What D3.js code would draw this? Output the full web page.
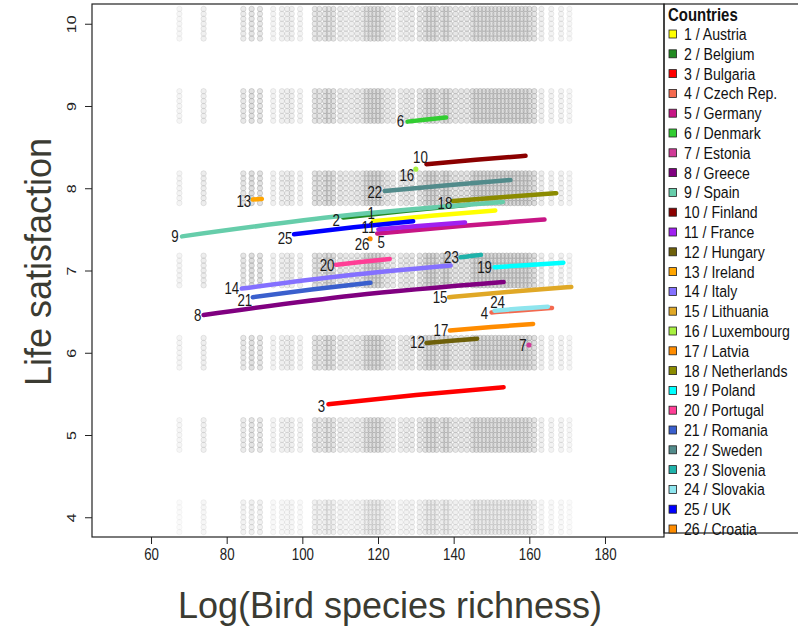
<!DOCTYPE html>
<html>
<head>
<meta charset="utf-8">
<script src="https://cdn.jsdelivr.net/npm/d3@7"></script>
<style>
body { margin: 0; background: #fff; }
svg text { font-family: 'Liberation Sans', Arial, sans-serif; }
</style>
</head>
<body>
<div class="viz"></div>
<script>
//////////////////////////
// Data
//////////////////////////

const countries = ['Austria', 'Belgium', 'Bulgaria', 'Czech Rep.', 'Germany', 'Denmark', 'Estonia',
    'Greece', 'Spain', 'Finland', 'France', 'Hungary', 'Ireland', 'Italy', 'Lithuania', 'Luxembourg',
    'Latvia', 'Netherlands', 'Poland', 'Portugal', 'Romania', 'Sweden', 'Slovenia', 'Slovakia', 'UK', 'Croatia'];

const colors = ['#ffff00', '#228b22', '#ff0000', '#f4694f', '#c71585', '#32cd32', '#d03a97',
    '#800080', '#66cdaa', '#8b0000', '#a020f0', '#6e600a', '#ffa500', '#8470ff', '#e0a826', '#a8f040',
    '#ff8c00', '#8b8b00', '#00ffff', '#ff3e96', '#3a5fcd', '#528b8b', '#20b2aa', '#8ee5ee', '#0000ff', '#ff8c00'];

// fitted curves per country: start, middle and end (x = bird species richness, y = life satisfaction)
const xStart = [118.7, 110.8, 106.9, 150.0, 119.8, 127.8, 159.9, 73.9, 68.2, 132.8, 120.1, 132.8, 86.9,
    84.0, 138.8, 130.0, 139.0, 139.8, 150.8, 108.9, 86.9, 121.8, 141.8, 150.8, 97.8, 117.9];
const xEnd = [151.0, 144.0, 153.2, 166.0, 164.0, 138.0, 159.9, 153.2, 153.0, 159.0, 143.0, 146.2, 89.3,
    139.2, 171.1, 130.0, 161.0, 167.1, 169.0, 123.1, 118.0, 155.0, 147.2, 164.9, 129.3, 117.9];
const yStart = [7.600, 7.643, 5.375, 6.490, 7.450, 8.810, 6.094, 6.460, 7.415, 8.293, 7.500, 6.120, 7.862,
    6.780, 6.675, 8.232, 6.270, 7.845, 7.040, 7.070, 6.675, 7.967, 7.160, 6.512, 7.440, 7.386];
const yMid = [7.669, 7.727, 5.487, 6.518, 7.542, 8.836, 6.094, 6.696, 7.665, 8.346, 7.544, 6.146, 7.866,
    6.938, 6.741, 8.232, 6.312, 7.894, 7.068, 7.106, 6.769, 8.037, 7.175, 6.537, 7.526, 7.386];
const yEnd = [7.730, 7.800, 5.580, 6.545, 7.620, 8.860, 6.094, 6.860, 7.833, 8.394, 7.585, 6.170, 7.870,
    7.060, 6.800, 8.232, 6.350, 7.940, 7.095, 7.140, 6.850, 8.100, 7.190, 6.560, 7.600, 7.386];

// number label offset from the curve start, in pixels
const labelOffset = [[-2, -8], [-7, 3], [-7, 2], [-7, 1], [4, 9], [-7, 0], [-6, 0], [-6, 0], [-7, 0],
    [-6, -7], [-10, -2], [-9, 0], [-9, 2], [-10, 0], [-9, 0], [-9, 6], [-9, 0], [-8, 2], [-10, 0],
    [-9, 1], [-8, 3], [-10, 1], [-9, 0], [3, -8], [-9, 4], [-8, 6]];

// raw answers (grey): region richness values, their relative weight, and per-level weight
const regions = [67.5, 73.9, 84.4, 86.6, 88.8, 92.3, 94.6, 96, 97.2, 99.4, 103.3, 104.5, 106, 107,
    108.2, 110, 111.5, 113, 114.5, 116, 117, 118, 119, 120, 121, 122.5, 124, 126, 127.5, 129, 131,
    132.5, 133.5, 134.5, 135.5, 137, 138, 139, 140.5, 142, 143.5, 145, 146, 147, 148, 149, 150, 151,
    152, 153, 154, 155, 156, 157, 158, 159, 160, 161.3, 163.2, 165.8, 168.4, 170.6];
const regionWeight = [0.3, 0.5, 0.7, 0.9, 0.8, 0.4, 0.5, 0.5, 0.5, 0.4, 0.8, 0.8, 0.9, 0.9, 0.9, 0.7,
    0.6, 0.6, 0.7, 0.7, 0.9, 1, 1, 1, 0.9, 0.7, 0.6, 0.6, 0.7, 0.7, 0.8, 1, 1, 1, 1, 1, 1, 0.9, 0.8,
    0.8, 0.8, 1, 1, 1, 1, 1, 1, 1, 1, 1, 1, 1, 1, 1, 1, 1, 1, 0.9, 0.5, 0.4, 0.4, 0.3];
const levels = [4, 5, 6, 7, 8, 9, 10];
const levelWeight = [0.5, 0.8, 0.9, 1.0, 1.0, 0.9, 0.8];

const xTicks = [60, 80, 100, 120, 140, 160, 180];
const yTicks = [4, 5, 6, 7, 8, 9, 10];

//////////////////////////
// Chart
//////////////////////////

const box = {left: 92, right: 664, top: 4, bottom: 537};
const jitterSteps = [-0.18, -0.12, -0.06, 0, 0.06, 0.12, 0.18];
const SQ = 0.83; // the original picture is squeezed sideways

var svg = d3.select('div.viz')
    .append('svg')
    .attr('width', 798)
    .attr('height', 630);

var xScale = d3.scaleLinear().domain([44.4, 195.6]).range([box.left, box.right]);
var yScale = d3.scaleLinear().domain([3.76, 10.24]).range([box.bottom, box.top]);

// grey background answers
var bgData = [];
levels.forEach((lv, li) => {
    regions.forEach((rx, ri) => {
        jitterSteps.forEach(s => {
            bgData.push({x: rx, y: lv + s, w: levelWeight[li] * regionWeight[ri]});
        });
    });
});

svg.append('g')
    .attr('class', 'bg-points')
    .selectAll('circle')
    .data(bgData)
    .join('circle')
    .attr('cx', d => xScale(d.x))
    .attr('cy', d => yScale(d.y))
    .attr('r', 2.7)
    .attr('fill', '#a8a8a8')
    .attr('fill-opacity', d => 0.42 * d.w)
    .attr('stroke', '#999')
    .attr('stroke-width', 0.9)
    .attr('stroke-opacity', d => 0.55 * d.w);

// axes
var xAxis = svg.append('g')
    .attr('transform', 'translate(0,' + box.bottom + ')')
    .call(d3.axisBottom(xScale).tickValues(xTicks).tickFormat(d3.format('d')).tickSize(7).tickPadding(5));
xAxis.select('.domain').remove();
xAxis.selectAll('line').attr('stroke', '#222');
xAxis.selectAll('text')
    .attr('transform', 'scale(' + SQ + ',1)')
    .style('font-size', '16px')
    .attr('fill', '#222');

var yAxis = svg.append('g')
    .attr('transform', 'translate(' + box.left + ',0)')
    .call(d3.axisLeft(yScale).tickValues(yTicks).tickFormat(d3.format('d')).tickSize(7));
yAxis.select('.domain').remove();
yAxis.selectAll('line').attr('stroke', '#222');
yAxis.selectAll('text')
    .attr('x', null)
    .attr('dy', '0.35em')
    .attr('transform', 'translate(-21,0) rotate(-90) scale(1,' + SQ + ')')
    .attr('text-anchor', 'middle')
    .style('font-size', '16px')
    .attr('fill', '#222');

svg.append('rect')
    .attr('x', box.left)
    .attr('y', box.top)
    .attr('width', box.right - box.left)
    .attr('height', box.bottom - box.top)
    .attr('fill', 'none')
    .attr('stroke', '#222')
    .attr('stroke-width', 1.2);

// country curves
var line = d3.line()
    .x(d => xScale(d[0]))
    .y(d => yScale(d[1]))
    .curve(d3.curveNatural);

var curves = svg.append('g').attr('class', 'curves');
countries.forEach((c, i) => {
    if (xStart[i] === xEnd[i]) {
        curves.append('circle')
            .attr('cx', xScale(xStart[i]))
            .attr('cy', yScale(yStart[i]))
            .attr('r', 2.6)
            .attr('fill', colors[i]);
    } else {
        var pts = [[xStart[i], yStart[i]], [(xStart[i] + xEnd[i]) / 2, yMid[i]], [xEnd[i], yEnd[i]]];
        curves.append('path')
            .attr('d', line(pts))
            .attr('fill', 'none')
            .attr('stroke', colors[i])
            .attr('stroke-width', 4.5)
            .attr('stroke-linecap', 'round');
    }
});

// number labels
svg.append('g')
    .attr('class', 'labels')
    .selectAll('text')
    .data(countries)
    .join('text')
    .attr('transform', (d, i) => 'translate(' + (xScale(xStart[i]) + labelOffset[i][0]) + ','
        + (yScale(yStart[i]) + labelOffset[i][1]) + ') scale(' + SQ + ',1)')
    .attr('text-anchor', 'middle')
    .attr('dy', '0.35em')
    .style('font-size', '16px')
    .attr('fill', '#1a1a1a')
    .text((d, i) => i + 1);

// legend
var legend = svg.append('g').attr('class', 'legend');
legend.append('rect')
    .attr('x', box.right)
    .attr('y', box.top)
    .attr('width', 150)
    .attr('height', 529)
    .attr('fill', 'none')
    .attr('stroke', '#222')
    .attr('stroke-width', 1.2);
legend.append('text')
    .attr('transform', 'translate(668,15) scale(' + SQ + ',1)')
    .attr('dy', '0.35em')
    .style('font-size', '18px')
    .style('font-weight', 'bold')
    .attr('fill', '#111')
    .text('Countries');

var items = legend.selectAll('g.item')
    .data(countries)
    .join('g')
    .attr('class', 'item')
    .attr('transform', (d, i) => 'translate(0,' + (34 + i * 19.8) + ')');
items.append('rect')
    .attr('x', 669)
    .attr('y', -4)
    .attr('width', 7.5)
    .attr('height', 8)
    .attr('fill', (d, i) => colors[i])
    .attr('stroke', '#222')
    .attr('stroke-width', 0.8);
items.append('text')
    .attr('transform', 'translate(684,0) scale(' + SQ + ',1)')
    .attr('dy', '0.35em')
    .style('font-size', '17px')
    .attr('fill', '#111')
    .text((d, i) => (i + 1) + ' / ' + d);

// axis titles
svg.append('text')
    .attr('transform', 'translate(38,262) rotate(-90)')
    .attr('text-anchor', 'middle')
    .attr('dy', '0.35em')
    .style('font-size', '36px')
    .attr('fill', '#3b3b32')
    .text('Life satisfaction');

svg.append('text')
    .attr('x', 390)
    .attr('y', 605)
    .attr('text-anchor', 'middle')
    .attr('dy', '0.35em')
    .style('font-size', '36px')
    .attr('fill', '#3b3b32')
    .text('Log(Bird species richness)');
</script>
</body>
</html>
